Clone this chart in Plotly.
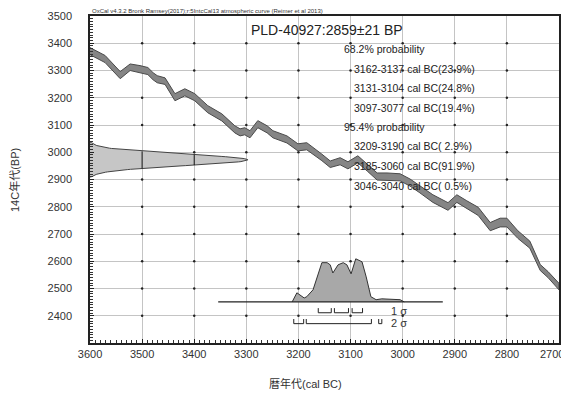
import plotly.graph_objects as go
import numpy as np

# ---- calibration curve (cal BC, 14C BP, half-width) ----
cal_years = [3600, 3571, 3542, 3523, 3504, 3489, 3479, 3471, 3456, 3437, 3418, 3399,
             3374, 3347, 3322, 3312, 3303, 3293, 3278, 3260, 3249, 3222, 3201, 3184,
             3155, 3139, 3120, 3105, 3086, 3068, 3049, 3030, 3005, 2986, 2967, 2942,
             2913, 2896, 2877, 2855, 2832, 2813, 2800, 2779, 2756, 2736, 2721, 2700]
curve_bp = [3371, 3342, 3283, 3312, 3305, 3298, 3279, 3268, 3261, 3202, 3220, 3202,
            3158, 3128, 3084, 3073, 3077, 3066, 3103, 3084, 3066, 3047, 3018, 3022,
            2981, 2956, 2967, 2952, 2974, 2944, 2911, 2911, 2908, 2889, 2864, 2830,
            2801, 2830, 2808, 2783, 2727, 2742, 2742, 2698, 2661, 2577, 2551, 2507]
curve_err = [13, 13, 13, 12, 13, 13, 13, 13, 12, 13, 13, 13,
             13, 13, 13, 13, 13, 13, 13, 13, 13, 13, 13, 13,
             12, 12, 13, 13, 13, 13, 13, 13, 13, 13, 13, 14,
             14, 14, 14, 15, 15, 16, 16, 14, 13, 11, 11, 12]

# ---- radiocarbon date ----
date_label = "PLD-40927:2859±21 BP"
date_center_bp = 2972
date_sigma = 21
date_peak_years = 303

# ---- calibrated distribution ----
dist_years = [3212, 3203, 3189, 3184, 3172, 3162, 3155, 3145, 3139, 3134, 3124, 3114,
              3107, 3099, 3090, 3078, 3070, 3061, 3051, 3040, 3020, 3005, 2997]
dist_prob = [0.0, 0.21, 0.09, 0.12, 0.28, 0.67, 0.91, 0.91, 0.86, 0.67, 0.86, 0.91,
             0.86, 0.65, 1.0, 0.93, 0.58, 0.12, 0.05, 0.07, 0.06, 0.05, 0.0]
dist_base_bp = 2451
dist_height_bp = 158
dist_base_span = [3354, 2923]

range_68 = [(3162, 3137), (3131, 3104), (3097, 3077)]
range_95 = [(3209, 3190), (3185, 3060), (3046, 3040)]
legend_lines = ["68.2% probability",
                "3162-3137 cal BC(23.9%)",
                "3131-3104 cal BC(24.8%)",
                "3097-3077 cal BC(19.4%)",
                "95.4% probability",
                "3209-3190 cal BC( 2.9%)",
                "3185-3060 cal BC(91.9%)",
                "3046-3040 cal BC( 0.5%)"]
header_text = "OxCal v4.3.2 Bronk Ramsey(2017);r:5IntcCal13 atmospheric curve (Reimer et al 2013)"

x_ticks = list(range(3600, 2699, -100))
y_ticks = list(range(2400, 3501, 100))

FONT = "Liberation Sans, Arial, Noto Sans CJK JP"
fig = go.Figure()

# grid intersection dots
gx, gy = np.meshgrid(x_ticks[1:-1], y_ticks[:-1])
fig.add_trace(go.Scatter(x=gx.ravel(), y=gy.ravel(), mode="markers",
                         marker=dict(size=2.5, color="#222"), hoverinfo="skip"))

# calibration band
cy = np.array(curve_bp); ce = np.array(curve_err)
band_x = cal_years + cal_years[::-1]
band_y = list(cy + ce) + list((cy - ce)[::-1])
fig.add_trace(go.Scatter(x=band_x, y=band_y, fill="toself", fillcolor="#858585",
                         line=dict(color="#4a4a4a", width=1), mode="lines"))

# radiocarbon date gaussian on y axis
yy = np.linspace(date_center_bp - 3 * date_sigma, date_center_bp + 3 * date_sigma, 121)
ww = date_peak_years * np.exp(-((yy - date_center_bp) ** 2) / (2 * date_sigma ** 2))
gx_line = list(3600 - ww)
fig.add_trace(go.Scatter(x=[3600] + gx_line + [3600], y=[yy[0]] + list(yy) + [yy[-1]],
                         fill="toself", fillcolor="#c6c6c6",
                         line=dict(color="#444", width=1), mode="lines"))
# dark grid segments inside the gaussian
seg_x, seg_y = [], []
for gxv in [3500, 3400]:
    d = date_sigma * np.sqrt(2 * np.log(date_peak_years / (3600 - gxv)))
    seg_x += [gxv, gxv, None]
    seg_y += [date_center_bp - d, date_center_bp + d, None]
fig.add_trace(go.Scatter(x=seg_x, y=seg_y, mode="lines", line=dict(color="#111", width=1)))

# calibrated distribution
dy = [dist_base_bp + p * dist_height_bp for p in dist_prob]
fig.add_trace(go.Scatter(x=dist_years, y=dy, fill="toself", fillcolor="#a8a8a8",
                         line=dict(color="#333", width=1), mode="lines"))
fig.add_trace(go.Scatter(x=dist_base_span, y=[dist_base_bp, dist_base_bp], mode="lines",
                         line=dict(color="#222", width=1.2)))

# range brackets
def brackets(ranges, bottom, top):
    bx, by = [], []
    for a, b in ranges:
        bx += [a, a, b, b, None]
        by += [top, bottom, bottom, top, None]
    return bx, by

bx, by = brackets(range_68, 2411, 2428)
fig.add_trace(go.Scatter(x=bx, y=by, mode="lines", line=dict(color="#222", width=1)))
bx, by = brackets(range_95, 2371, 2388)
fig.add_trace(go.Scatter(x=bx, y=by, mode="lines", line=dict(color="#222", width=1)))

ann = []
ann.append(dict(x=3026, y=2419, xref="x", yref="y", text="1 σ", showarrow=False,
                xanchor="left", yanchor="middle", font=dict(size=11, color="#333", family=FONT)))
ann.append(dict(x=3026, y=2372, xref="x", yref="y", text="2 σ", showarrow=False,
                xanchor="left", yanchor="middle", font=dict(size=11, color="#333", family=FONT)))

# page layout (page pixels); the page body adds an 8px offset
OFF = 8
L, T, W, H = 90, 16, 469, 327
FW, FH = 569 - OFF, 396 - OFF

def px(xp):
    return (xp - L) / W

def py(yp):
    return (T + H - yp) / H

ann.append(dict(x=px(90), y=py(11), xref="paper", yref="paper", text=header_text,
                showarrow=False, xanchor="left", yanchor="middle",
                font=dict(size=6, color="#333", family=FONT)))
ann.append(dict(x=px(249), y=py(30), xref="paper", yref="paper", text=date_label,
                showarrow=False, xanchor="left", yanchor="middle",
                font=dict(size=14, color="#222", family=FONT)))
line_y = [49, 69, 88, 108, 127, 146, 166, 186]
for t, ly in zip(legend_lines, line_y):
    xl = 342 if "probability" in t else 352
    ann.append(dict(x=px(xl), y=py(ly), xref="paper", yref="paper", text=t,
                    showarrow=False, xanchor="left", yanchor="middle",
                    font=dict(size=10.5, color="#222", family=FONT)))
ann.append(dict(x=px(15), y=py(180), xref="paper", yref="paper", text="14C年代(BP)",
                showarrow=False, textangle=-90, xanchor="center", yanchor="middle",
                font=dict(size=11, color="#333", family=FONT)))
ann.append(dict(x=px(305), y=py(383), xref="paper", yref="paper", text="暦年代(cal BC)",
                showarrow=False, xanchor="center", yanchor="middle",
                font=dict(size=11, color="#333", family=FONT)))
# last x tick label, nudged inside the window
ann.append(dict(x=px(566), y=py(354), xref="paper", yref="paper", text=str(x_ticks[-1]),
                showarrow=False, xanchor="right", yanchor="middle",
                font=dict(size=11, color="#333", family=FONT)))

x_ticktext = [str(v) for v in x_ticks[:-1]] + [""]

fig.update_layout(
    width=FW, height=FH,
    margin=dict(l=L - OFF, r=FW - (L - OFF) - W, t=T - OFF, b=FH - (T - OFF) - H,
                autoexpand=False),
    paper_bgcolor="white", plot_bgcolor="white", showlegend=False,
    annotations=ann,
    xaxis=dict(range=[3600.01, 2699.99], tickvals=x_ticks, ticktext=x_ticktext,
               showgrid=True, gridcolor="#c4c4c4", gridwidth=1, zeroline=False,
               showline=True, linecolor="#222", linewidth=1.5, mirror=True,
               ticks="inside", ticklen=4, tickcolor="#222", ticklabeloverflow="allow",
               automargin=False,
               minor=dict(dtick=10, tick0=2700, ticks="inside", ticklen=3, tickcolor="#333", showgrid=False),
               tickfont=dict(size=11, color="#333", family=FONT), ticklabelstandoff=0),
    yaxis=dict(range=[2300, 3500.01], tickvals=y_ticks, ticktext=[str(v) for v in y_ticks],
               showgrid=True, gridcolor="#c4c4c4", gridwidth=1, zeroline=False,
               showline=True, linecolor="#222", linewidth=1.5, mirror=True,
               ticks="inside", ticklen=4, tickcolor="#222", ticklabeloverflow="allow",
               automargin=False,
               minor=dict(dtick=10, tick0=2300, ticks="inside", ticklen=3, tickcolor="#333", showgrid=False),
               tickfont=dict(size=11, color="#333", family=FONT), ticklabelstandoff=14),
)
fig.write_html("out.html")
